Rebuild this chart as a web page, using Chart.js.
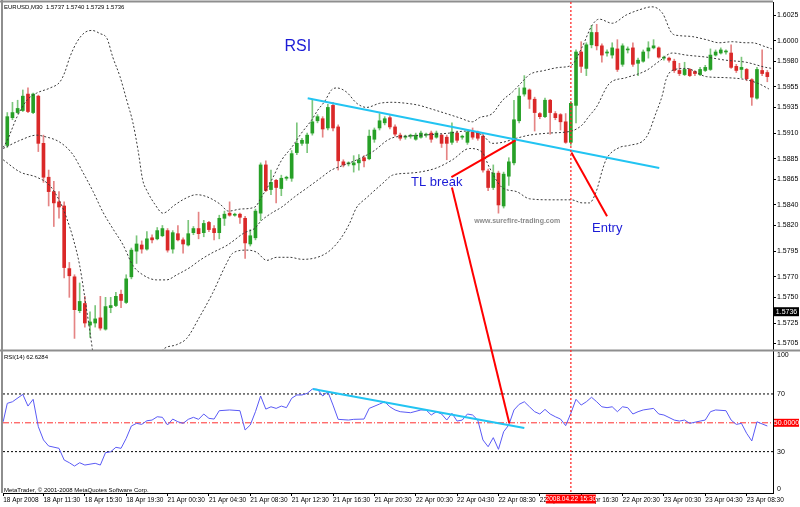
<!DOCTYPE html>
<html lang="en">
<head>
<meta charset="UTF-8">
<title>EURUSD M30 - RSI trendline break</title>
<script src="https://cdn.jsdelivr.net/npm/chart.js@4.4.1/dist/chart.umd.min.js"></script>
<style>
    html, body { margin: 0; padding: 0; background: #fff; }
    #wrap { width: 800px; height: 507px; }
</style>
</head>
<body>
<div id="wrap"><canvas id="chart" width="800" height="507"></canvas></div>
<script>
// M30 candles, bar 0 = 18 Apr 2008 08:00
const open = [
    1.5898,1.5925,1.5930,1.5932,1.5948,1.5930,1.5946,1.5900,1.5867,1.5853,
    1.5843,1.5839,1.5778,1.5770,1.5737,1.5744,1.5723,1.5725,1.5730,1.5719,
    1.5740,1.5742,1.5753,1.5745,1.5770,1.5795,1.5801,1.5797,1.5808,1.5807,
    1.5810,1.5815,1.5797,1.5812,1.5806,1.5801,1.5813,1.5817,1.5813,1.5823,
    1.5817,1.5813,1.5827,1.5832,1.5830,1.5831,1.5827,1.5802,1.5808,1.5832,
    1.5879,1.5855,1.5864,1.5856,1.5866,1.5866,1.5891,1.5900,1.5900,1.5910,
    1.5922,1.5924,1.5915,1.5937,1.5916,1.5882,1.5880,1.5879,1.5881,1.5886,
    1.5885,1.5904,1.5915,1.5920,1.5925,1.5916,1.5908,1.5906,1.5907,1.5904,
    1.5906,1.5908,1.5910,1.5906,1.5908,1.5906,1.5901,1.5910,1.5906,1.5901,
    1.5911,1.5910,1.5907,1.5873,1.5857,1.5871,1.5839,1.5868,1.5881,1.5922,
    1.5948,1.5952,1.5943,1.5929,1.5926,1.5942,1.5929,1.5928,1.5921,1.5901,
    1.5937,1.5989,1.5973,1.5996,1.6008,1.5995,1.5988,1.5986,1.5992,1.5977,
    1.5991,1.5993,1.5978,1.5980,1.5990,1.5993,1.5993,1.5983,1.5983,1.5980,
    1.5971,1.5967,1.5972,1.5970,1.5967,1.5971,1.5972,1.5986,1.5988,1.5989,
    1.5988,1.5975,1.5972,1.5972,1.5962,1.5944,1.5971,1.5969
];
const high = [
    1.5930,1.5940,1.5942,1.5952,1.5954,1.5949,1.5947,1.5908,1.5874,1.5863,
    1.5853,1.5843,1.5784,1.5772,1.5764,1.5751,1.5736,1.5742,1.5751,1.5750,
    1.5750,1.5755,1.5757,1.5772,1.5798,1.5810,1.5805,1.5814,1.5811,1.5818,
    1.5820,1.5817,1.5815,1.5820,1.5808,1.5825,1.5819,1.5833,1.5825,1.5824,
    1.5820,1.5830,1.5834,1.5843,1.5832,1.5832,1.5829,1.5816,1.5836,1.5881,
    1.5883,1.5874,1.5865,1.5869,1.5868,1.5893,1.5920,1.5905,1.5910,1.5943,
    1.5928,1.5926,1.5938,1.5940,1.5918,1.5884,1.5882,1.5888,1.5889,1.5888,
    1.5913,1.5915,1.5929,1.5926,1.5927,1.5918,1.5910,1.5908,1.5909,1.5910,
    1.5912,1.5910,1.5912,1.5912,1.5909,1.5908,1.5920,1.5912,1.5908,1.5913,
    1.5915,1.5912,1.5909,1.5875,1.5879,1.5873,1.5872,1.5886,1.5942,1.5954,
    1.5966,1.5953,1.5945,1.5930,1.5944,1.5943,1.5931,1.5929,1.5929,1.5941,
    1.5991,1.5999,1.5998,1.6015,1.6016,1.5997,1.5991,1.5998,1.6001,1.5997,
    1.5994,1.5998,1.5983,1.5991,1.5999,1.6001,1.5994,1.5985,1.5984,1.5982,
    1.5978,1.5979,1.5973,1.5971,1.5974,1.5976,1.5992,1.5991,1.5993,1.5991,
    1.5996,1.5977,1.5984,1.5973,1.5963,1.5974,1.5991,1.5971
];
const low = [
    1.5896,1.5923,1.5929,1.5931,1.5930,1.5929,1.5892,1.5862,1.5839,1.5819,
    1.5827,1.5769,1.5750,1.5710,1.5735,1.5721,1.5711,1.5721,1.5718,1.5718,
    1.5735,1.5741,1.5740,1.5744,1.5768,1.5783,1.5793,1.5796,1.5803,1.5806,
    1.5809,1.5794,1.5793,1.5805,1.5793,1.5800,1.5811,1.5807,1.5809,1.5814,
    1.5806,1.5807,1.5820,1.5829,1.5829,1.5822,1.5788,1.5800,1.5806,1.5825,
    1.5853,1.5850,1.5842,1.5849,1.5864,1.5863,1.5889,1.5898,1.5891,1.5908,
    1.5920,1.5906,1.5913,1.5912,1.5874,1.5877,1.5878,1.5872,1.5874,1.5877,
    1.5884,1.5901,1.5913,1.5918,1.5914,1.5907,1.5903,1.5904,1.5905,1.5903,
    1.5905,1.5906,1.5901,1.5905,1.5896,1.5884,1.5899,1.5901,1.5904,1.5899,
    1.5904,1.5903,1.5872,1.5854,1.5855,1.5832,1.5837,1.5859,1.5879,1.5920,
    1.5946,1.5934,1.5912,1.5924,1.5925,1.5909,1.5923,1.5913,1.5900,1.5898,
    1.5920,1.5969,1.5966,1.5993,1.5991,1.5979,1.5985,1.5983,1.5970,1.5975,
    1.5988,1.5975,1.5966,1.5979,1.5983,1.5992,1.5983,1.5981,1.5979,1.5969,
    1.5966,1.5966,1.5965,1.5966,1.5966,1.5970,1.5971,1.5985,1.5987,1.5987,
    1.5973,1.5969,1.5964,1.5961,1.5937,1.5943,1.5966,1.5960
];
const close = [
    1.5926,1.5930,1.5934,1.5946,1.5931,1.5948,1.5900,1.5867,1.5853,1.5842,
    1.5838,1.5779,1.5771,1.5738,1.5746,1.5725,1.5726,1.5729,1.5720,1.5741,
    1.5742,1.5751,1.5747,1.5768,1.5796,1.5802,1.5797,1.5807,1.5806,1.5815,
    1.5817,1.5796,1.5813,1.5806,1.5802,1.5812,1.5817,1.5812,1.5822,1.5816,
    1.5813,1.5827,1.5831,1.5830,1.5831,1.5828,1.5803,1.5810,1.5834,1.5879,
    1.5854,1.5862,1.5857,1.5866,1.5867,1.5890,1.5900,1.5903,1.5908,1.5921,
    1.5926,1.5914,1.5935,1.5915,1.5883,1.5879,1.5881,1.5881,1.5884,1.5883,
    1.5907,1.5913,1.5922,1.5924,1.5916,1.5909,1.5905,1.5907,1.5907,1.5908,
    1.5910,1.5908,1.5904,1.5910,1.5900,1.5900,1.5911,1.5903,1.5906,1.5911,
    1.5906,1.5905,1.5874,1.5857,1.5871,1.5840,1.5870,1.5882,1.5923,1.5946,
    1.5954,1.5943,1.5930,1.5926,1.5942,1.5930,1.5925,1.5921,1.5901,1.5939,
    1.5989,1.5975,1.5996,1.6008,1.5995,1.5986,1.5989,1.5993,1.5972,1.5995,
    1.5991,1.5977,1.5981,1.5989,1.5993,1.5995,1.5984,1.5983,1.5981,1.5971,
    1.5968,1.5972,1.5966,1.5968,1.5972,1.5974,1.5986,1.5989,1.5991,1.5989,
    1.5974,1.5971,1.5974,1.5963,1.5945,1.5972,1.5968,1.5965
];

// Bollinger bands at the bar positions given
const upperBar = [-0.8,0,1.9,3.8,5.7,8.3,10.2,11.1,12.1,13.5,15.0,16.4,17.9,19.3,20.4,21.8,23.1,24.3,25.3,26.2,
    27.0,28.5,30.1,32.4,34.3,36.6,38.6,41.1,42.8,45.1,47.9,49.2,51.1,53.1,55.0,56.9,58.9,60.0,61.4,62.7,
    63.7,65.6,67.6,69.5,72.0,74.5,77.2,79.7,81.7,84.9,87.4,90.0,91.3,93.8,95.8,97.7,99.6,101.0,103.9,106.8,
    109.1,111.2,113.1,114.5,117.0,119.7,122.2,124.7,126.7,128.6,129.9,132.5,135.2,137.7,140.2,142.9,144.0,146.7,147.9];
const upperVal = [1.5896,1.5903,1.5926,1.5942,1.5949,1.5954,1.5960,1.5969,1.5984,1.5999,1.6008,1.6010,1.6007,1.6002,1.5984,1.5965,1.5942,1.5920,1.5893,1.5864,
    1.5854,1.5841,1.5832,1.5840,1.5846,1.5850,1.5848,1.5841,1.5834,1.5836,1.5838,1.5848,1.5864,1.5884,1.5896,1.5910,1.5923,1.5932,1.5941,1.5952,
    1.5954,1.5950,1.5939,1.5935,1.5939,1.5940,1.5939,1.5937,1.5934,1.5929,1.5925,1.5921,1.5925,1.5929,1.5942,1.5950,1.5960,1.5967,1.5971,1.5974,
    1.5976,1.5994,1.6015,1.6021,1.6017,1.6025,1.6030,1.6033,1.6027,1.6007,1.6005,1.6004,1.6001,1.5998,1.5999,1.5998,1.5998,1.5994,1.5992];

const midBar = [-0.8,2.5,5.7,6.9,10.2,12.7,14.6,16.6,18.5,20.4,22.4,24.3,26.2,28.9,30.8,32.8,35.3,37.2,39.5,42.6,
    45.9,47.8,49.2,51.1,53.1,55.6,58.1,60.8,62.7,65.2,68.5,71.0,73.5,74.9,77.2,80.3,85.5,88.8,91.9,93.8,
    95.8,98.5,101.0,104.8,109.1,111.2,112.6,113.9,116.4,119.7,123.6,126.1,128.6,131.3,135.2,139.0,142.9,146.7,147.9];
const midVal = [1.5895,1.5903,1.5908,1.5907,1.5901,1.5889,1.5872,1.5853,1.5833,1.5817,1.5801,1.5781,1.5772,1.5767,1.5767,1.5772,1.5779,1.5786,1.5793,1.5801,
    1.5813,1.5817,1.5825,1.5832,1.5838,1.5848,1.5857,1.5867,1.5874,1.5879,1.5886,1.5893,1.5903,1.5906,1.5907,1.5908,1.5910,1.5912,1.5908,1.5900,
    1.5901,1.5905,1.5908,1.5910,1.5912,1.5918,1.5927,1.5935,1.5958,1.5964,1.5971,1.5980,1.5988,1.5986,1.5984,1.5981,1.5979,1.5974,1.5973];

// lower band leaves the window between bars 17 and 29
const lowerBar = [-0.8,2.5,5.7,8.2,10.2,11.5,12.7,14.0,15.4,16.0,16.6,23,29.5,30.1,32.8,34.7,37.2,39.7,42.4,43.6,
    46.3,48.2,50.2,52.1,54.6,57.1,61.7,64.3,66.2,67.5,69.5,72.6,74.5,77.8,79.7,83.0,86.1,89.4,91.9,93.2,
    95.7,98.5,101.0,105.4,109.1,111.2,112.6,113.9,115.1,115.8,118.4,120.3,123.6,125.5,126.7,127.4,128.6,131.3,135.2,139.0,
    142.9,145.4,147.3];
const lowerVal = [1.5884,1.5872,1.5867,1.5859,1.5843,1.5827,1.5808,1.5781,1.5736,1.5716,1.5694,null,1.5694,1.5699,1.5704,1.5710,1.5731,1.5754,1.5783,1.5793,
    1.5796,1.5794,1.5786,1.5789,1.5789,1.5787,1.5793,1.5806,1.5822,1.5837,1.5847,1.5861,1.5869,1.5871,1.5872,1.5876,1.5884,1.5895,1.5891,1.5877,
    1.5857,1.5853,1.5846,1.5845,1.5845,1.5842,1.5842,1.5853,1.5874,1.5884,1.5896,1.5898,1.5906,1.5930,1.5947,1.5962,1.5971,1.5973,1.5965,1.5964,
    1.5962,1.5958,1.5953];

// RSI(14)
const rsiBar = [-0.8,0,1,3,4,5,6,7,8,10,11,12,13,14,15,17,18,19,20,21,
    22,23,24,25,26,27,28,29,30,31,32,33,34,35,36,37,38,39,40,41,
    43,45,46,47,48,49,50,51,52,53,54,55,56,57,58,59,60,61,62,63,
    64,66,67,69,70,72,73,74,75,76,78,80,81,82,83,84,85,86,87,88,
    89,90,91,92,93,94,95,96,97,98,99,100,101,102,103,104,105,106,107,108,
    109,110,111,112,113,114,115,116,117,118,119,120,121,122,123,125,126,127,129,130,
    131,132,134,135,136,137,139,140,141,142,143,144,145,146,147];
const rsiVal = [50.7,63.5,64.6,69.7,61.6,66.3,47.3,38.1,33.9,32.3,24.2,22.3,20.0,22.3,20.7,21.9,20.7,29.3,29.9,33.0,
    32.3,39.2,47.8,49.6,48.9,51.4,51.9,54.2,53.8,48.5,52.6,50.7,49.6,52.4,53.8,52.4,56.1,53.1,52.6,58.4,
    58.9,58.4,45.0,48.5,57.7,68.6,59.5,61.1,60.0,61.6,60.5,67.0,69.3,69.3,70.4,73.4,73.2,68.6,71.5,62.3,
    52.4,51.9,52.4,52.6,60.0,63.0,64.6,61.1,58.9,57.7,57.0,58.9,58.9,55.4,57.7,56.1,51.9,56.6,51.2,51.9,
    56.1,55.4,51.9,38.1,33.4,39.7,31.6,43.8,48.5,58.9,62.8,64.6,61.1,57.7,56.1,59.3,56.1,54.2,52.6,48.0,
    56.6,66.3,62.3,64.6,67.7,64.6,61.1,60.5,61.1,57.7,61.1,60.5,56.1,57.7,58.9,60.0,56.1,55.4,51.9,51.2,
    51.9,49.6,51.2,51.9,57.7,58.9,58.4,51.9,48.9,49.6,42.7,37.4,50.7,49.2,47.8];
const rsiLevels = [70, 50, 30];
const rsiAxisLabels = [100, 70, 30, 0];

// axis labels
const xTickBars = [-0.8, 7, 15, 23, 31, 39, 47, 55, 63, 71, 79, 87, 95, 103, 111, 119, 127, 135, 143];
const xTickText = ['18 Apr 2008', '18 Apr 11:30', '18 Apr 15:30', '18 Apr 19:30', '21 Apr 00:30', '21 Apr 04:30',
    '21 Apr 08:30', '21 Apr 12:30', '21 Apr 16:30', '21 Apr 20:30', '22 Apr 00:30', '22 Apr 04:30', '22 Apr 08:30',
    '22 Apr 12:30', '22 Apr 16:30', '22 Apr 20:30', '23 Apr 00:30', '23 Apr 04:30', '23 Apr 08:30'];
const priceTicks = [1.6025, 1.6000, 1.5980, 1.5955, 1.5935, 1.5910, 1.5885, 1.5865, 1.5840, 1.5820, 1.5795, 1.5770, 1.5750, 1.5725, 1.5705];

// hand drawn lines (bar, value)
const tlPriceBar = [58.1, 126.1], tlPriceVal = [1.5944, 1.5876];
const tlRsiBar = [59.1, 100.0], tlRsiVal = [73.4, 46.4];
const breakBar = [85.9, 98.3], breakVal = [1.5867, 1.5903];
const entryArrowBar = [109.1, 116.0], entryArrowVal = [1.5891, 1.5829];
const entryBar = 109;
const lastPrice = 1.5736;

const FONT = "'Liberation Sans', Arial, sans-serif";
const GREEN = '#27a027', RED = '#da2828';
const GREEN_WICK = '#7cc67c', RED_WICK = '#e58484';
const isUp = i => close[i] >= open[i];
const pts = (xs, ys) => xs.map((x, i) => ({x: x, y: ys[i]}));
const flat = v => [{x: -0.83, y: v}, {x: 148.1, y: v}];

function lineDs(data, axis, color, width, dash) {
    return {
        type: 'line', data: data, yAxisID: axis,
        borderColor: color, borderWidth: width, borderDash: dash || [],
        pointRadius: 0, fill: false, tension: 0, spanGaps: false
    };
}

const datasets = [
    lineDs(pts(entryArrowBar, entryArrowVal), 'y', '#ff0000', 2),
    lineDs(pts(breakBar, breakVal), 'y', '#ff0000', 2),
    lineDs(pts(tlPriceBar, tlPriceVal), 'y', '#22c4f2', 2),
    lineDs(pts(tlRsiBar, tlRsiVal), 'yr', '#22c4f2', 2),
    lineDs(pts(rsiBar, rsiVal), 'yr', '#5a5af5', 1),
    lineDs(flat(rsiLevels[0]), 'yr', '#000', 1, [2, 2]),
    lineDs(flat(rsiLevels[1]), 'yr', '#ff3030', 1, [6, 2, 1, 2]),
    lineDs(flat(rsiLevels[2]), 'yr', '#000', 1, [2, 2]),
    Object.assign(lineDs(pts(upperBar, upperVal), 'y', '#3a3a3a', 1, [2, 2]), {cubicInterpolationMode: 'monotone'}),
    Object.assign(lineDs(pts(midBar, midVal), 'y', '#3a3a3a', 1, [2, 2]), {cubicInterpolationMode: 'monotone'}),
    Object.assign(lineDs(pts(lowerBar, lowerVal), 'y', '#3a3a3a', 1, [2, 2]), {cubicInterpolationMode: 'monotone'}),
    {
        // candle bodies
        type: 'bar', yAxisID: 'y', grouped: false, barThickness: 3, minBarLength: 1,
        data: open.map((o, i) => ({x: i, y: [o, close[i]]})),
        backgroundColor: open.map((o, i) => isUp(i) ? GREEN : RED),
        borderWidth: 0
    },
    {
        // wicks
        type: 'bar', yAxisID: 'y', grouped: false, barThickness: 1, minBarLength: 1,
        data: low.map((l, i) => ({x: i, y: [l, high[i]]})),
        backgroundColor: low.map((l, i) => isUp(i) ? GREEN_WICK : RED_WICK),
        borderWidth: 0
    }
];

function box(ctx, x, y, w, h, bg, text, font) {
    ctx.fillStyle = bg;
    ctx.fillRect(x, y, w, h);
    ctx.fillStyle = '#fff';
    ctx.font = font;
    ctx.textAlign = 'center';
    ctx.textBaseline = 'middle';
    ctx.fillText(text, x + w / 2, y + h / 2 + 0.5);
}

const overlay = {
    id: 'overlay',
    beforeDatasetDraw(chart, args) {
        // keep each dataset inside its own pane
        const ds = chart.data.datasets[args.index];
        const sc = chart.scales[ds.yAxisID];
        const a = chart.chartArea;
        chart.ctx.save();
        chart.ctx.beginPath();
        chart.ctx.rect(a.left, sc.top, a.right - a.left, sc.bottom - sc.top);
        chart.ctx.clip();
    },
    afterDatasetDraw(chart) {
        chart.ctx.restore();
    },
    afterDraw(chart) {
        const {ctx, chartArea: a} = chart;
        const x = chart.scales.x, y = chart.scales.y, yr = chart.scales.yr;
        ctx.save();

        // window frame and pane separator
        ctx.strokeStyle = '#8e8e8e';
        ctx.lineWidth = 2;
        ctx.beginPath();
        ctx.moveTo(2, 0); ctx.lineTo(2, a.bottom);
        ctx.moveTo(0, 1.5); ctx.lineTo(a.right, 1.5);
        ctx.moveTo(0, yr.top + 0.5); ctx.lineTo(800, yr.top + 0.5);
        ctx.stroke();

        // entry time line
        const ex = x.getPixelForValue(entryBar);
        ctx.strokeStyle = 'rgba(255,40,40,0.85)';
        ctx.lineWidth = 1.5;
        ctx.setLineDash([2, 2]);
        ctx.beginPath();
        ctx.moveTo(ex, a.top); ctx.lineTo(ex, a.bottom);
        ctx.stroke();
        ctx.setLineDash([]);

        // pointer from the TL break label down to the RSI break
        ctx.strokeStyle = '#ff0000';
        ctx.lineWidth = 2;
        ctx.beginPath();
        ctx.moveTo(x.getPixelForValue(86.0), y.getPixelForValue(1.5857));
        ctx.lineTo(x.getPixelForValue(97.1), yr.getPixelForValue(49.7));
        ctx.stroke();

        // labels on the chart
        ctx.textBaseline = 'middle';
        ctx.textAlign = 'left';
        ctx.fillStyle = '#1c1cd6';
        ctx.font = '16px ' + FONT;
        ctx.fillText('RSI', x.getPixelForValue(53.6), y.getPixelForValue(1.5994));
        ctx.font = '13px ' + FONT;
        ctx.fillText('TL break', x.getPixelForValue(78.1), y.getPixelForValue(1.5862));
        ctx.fillText('Entry', x.getPixelForValue(113.1), y.getPixelForValue(1.5817));
        ctx.fillStyle = '#8c8c8c';
        ctx.font = 'bold 7px ' + FONT;
        ctx.fillText('www.surefire-trading.com', x.getPixelForValue(90.3), y.getPixelForValue(1.5824));

        ctx.fillStyle = '#000';
        ctx.font = '6px ' + FONT;
        ctx.fillText('EURUSD,M30  1.5737 1.5740 1.5729 1.5736', 4, 7);
        ctx.fillText('RSI(14) 62.6284', 4, yr.top + 7);
        ctx.fillText('MetaTrader, \u00A9 2001-2008 MetaQuotes Software Corp.', 4, a.bottom - 3);

        // RSI scale, MT4 keeps the end labels inside the pane
        ctx.font = '7px ' + FONT;
        rsiAxisLabels.forEach(v => {
            let py = yr.getPixelForValue(v);
            py = Math.min(Math.max(py, yr.top + 5), yr.bottom - 4);
            ctx.fillStyle = '#000';
            ctx.fillText(String(v), a.right + 4, py);
        });

        // current price, RSI 50 and entry time markers
        box(ctx, a.right + 1, y.getPixelForValue(lastPrice) - 4.5, 25, 9, '#000', lastPrice.toFixed(4), '7px ' + FONT);
        box(ctx, a.right + 1, yr.getPixelForValue(50) - 4, 25, 8, '#ff0000', '50.0000', '7px ' + FONT);
        box(ctx, ex - 25, a.bottom + 1.5, 50, 9, '#ff0000', '2008.04.22 15:30', '6.5px ' + FONT);

        ctx.restore();
    }
};

new Chart(document.getElementById('chart'), {
    type: 'bar',
    data: {datasets: datasets},
    options: {
        responsive: false,
        animation: false,
        layout: {padding: {left: 3, top: 2, right: 0, bottom: 0}},
        plugins: {legend: {display: false}, tooltip: {enabled: false}},
        scales: {
            x: {
                type: 'linear', min: -0.83, max: 148.1, offset: false,
                afterBuildTicks: s => { s.ticks = xTickBars.map(v => ({value: v})); },
                afterFit: s => { s.height = 14; s.paddingLeft = 0; s.paddingRight = 0; },
                ticks: {
                    autoSkip: false, maxRotation: 0, minRotation: 0, align: 'start', padding: 0,
                    color: '#000', font: {size: 6.5, family: FONT},
                    callback: (v, i) => xTickText[i]
                },
                grid: {drawOnChartArea: false, tickLength: 3, color: '#000', offset: false},
                border: {color: '#000'}
            },
            y: {
                position: 'right', stack: 'panes', stackWeight: 348,
                min: 1.56987, max: 1.60377, beginAtZero: false,
                afterBuildTicks: s => { s.ticks = priceTicks.map(v => ({value: v})); },
                afterFit: s => { s.width = 27; s.paddingTop = 0; s.paddingBottom = 0; },
                ticks: {color: '#000', padding: 1, font: {size: 7, family: FONT}, callback: v => v.toFixed(4)},
                grid: {drawOnChartArea: false, tickLength: 3, color: '#000'},
                border: {color: '#000'}
            },
            yr: {
                position: 'right', stack: 'panes', stackWeight: 143,
                min: 1.3, max: 100.5, beginAtZero: false,
                afterFit: s => { s.width = 27; s.paddingTop = 0; s.paddingBottom = 0; },
                ticks: {display: false},
                grid: {display: false},
                border: {color: '#000'}
            }
        }
    },
    plugins: [overlay]
});
</script>
</body>
</html>
